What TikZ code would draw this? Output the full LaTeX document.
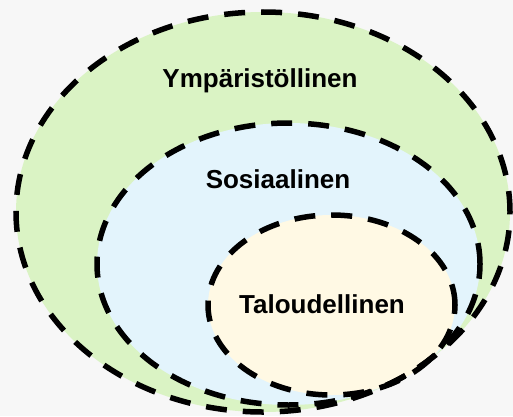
\documentclass[tikz,border=0pt]{standalone}
\usepackage{fontspec}
\setmainfont{Liberation Sans}
\definecolor{bgc}{RGB}{247,247,247}
\definecolor{greenc}{RGB}{218,243,196}
\definecolor{bluec}{RGB}{227,244,252}
\definecolor{yellowc}{RGB}{255,249,228}
\tikzset{
  ring/.style={draw=black, line width=5.5pt, dash pattern=on 21pt off 16pt},
  lbl/.style={font=\fontsize{26}{30}\selectfont\bfseries, anchor=base, inner sep=0pt}
}
\begin{document}
\begin{tikzpicture}[x=1pt,y=1pt]
\useasboundingbox (0,0) rectangle (513,416);
\fill[bgc] (0,0) rectangle (513,416);
\fill[greenc] (263,204) ellipse [x radius=247, y radius=200];
\fill[bluec] (288.5,152) ellipse [x radius=191.5, y radius=141];
\fill[yellowc] (331.5,111) ellipse [x radius=123.5, y radius=90];
\draw[ring] (263,204) ellipse [x radius=247, y radius=200];
\draw[ring] (288.5,152) ellipse [x radius=191.5, y radius=141];
\draw[ring] (331.5,111) ellipse [x radius=123.5, y radius=90];
\node[lbl] (ymp) at (260,329) {Ympäristöllinen};
\node[lbl] (sos) at (278,228) {Sosiaalinen};
\node[lbl] (tal) at (322,103) {Taloudellinen};
\end{tikzpicture}
\end{document}
